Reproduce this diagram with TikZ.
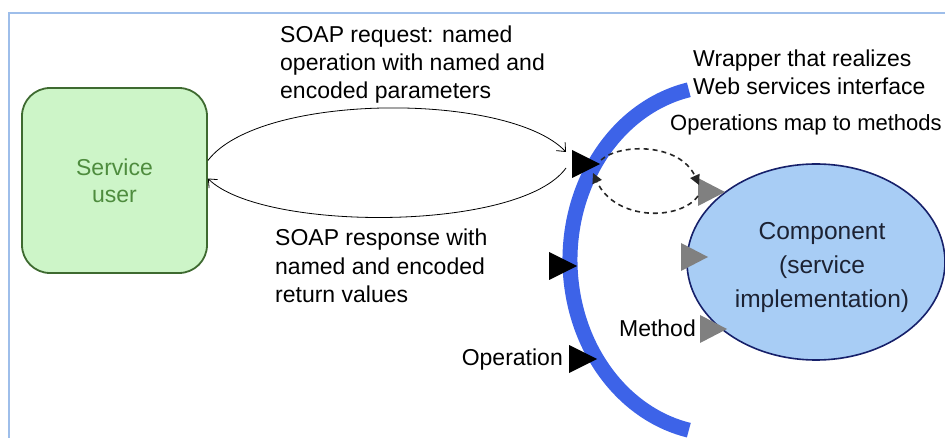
\documentclass[tikz,border=0pt]{standalone}
\usepackage{fontspec}
\setmainfont{Liberation Sans}
\usetikzlibrary{arrows.meta,shapes.geometric}

\definecolor{framec}{HTML}{9EBEEA}
\definecolor{userfill}{HTML}{CDF5C8}
\definecolor{userdraw}{HTML}{3E6A30}
\definecolor{usertext}{HTML}{4E8C3E}
\definecolor{wrapblue}{HTML}{3D63E8}
\definecolor{compfill}{HTML}{A8CDF5}
\definecolor{compdraw}{HTML}{16206A}
\definecolor{comptext}{HTML}{1C2233}
\definecolor{portgray}{HTML}{808080}

\begin{document}
\begin{tikzpicture}[x=1pt,y=-1pt,
  lbl/.style={font=\fontsize{23}{28}\selectfont, inner sep=0pt, align=left},
  userbox/.style={draw=userdraw, line width=1.8pt, fill=userfill, rounded corners=28pt,
    minimum width=185pt, minimum height=185pt, inner sep=0pt, align=center,
    text=usertext, font=\fontsize{23}{27}\selectfont},
  compbox/.style={ellipse, draw=compdraw, line width=1.6pt, fill=compfill,
    minimum width=258pt, minimum height=196pt, inner sep=0pt},
  comptxt/.style={align=center, inner sep=0pt, text=comptext,
    font=\fontsize{24.5}{34}\selectfont},
  soap/.style={line width=0.8pt, -{Straight Barb[length=7pt,width=12pt]}},
  maplink/.style={line width=1.6pt, dashed, dash pattern=on 5pt off 4pt, draw=black!85,
    -{Triangle[length=10pt,width=10pt]}},
  wrapper/.style={draw=wrapblue, line width=15pt},
  blackport/.pic={\fill[black] (-28,-14) -- (0,0) -- (-28,14) -- cycle;},
  grayport/.pic={\fill[portgray] (-27,-14) -- (0,0) -- (-27,14) -- cycle;}
]
\useasboundingbox (0,0) rectangle (945,438);

% outer frame (top and left edges)
\draw[framec, line width=2pt] (945,13) -- (9,13) -- (9,438);

% wrapper realising the web services interface
\draw[wrapper] (720,260) ++(258:150 and 174)
  arc[start angle=258, end angle=102, x radius=150, y radius=174];

% component and service user
\node[compbox] (comp) at (816,262) {};
\node[comptxt] (comptitle) at (822,267) {Component\\(service\\implementation)};
\node[userbox] (user) at (114.5,180.5) {Service\\user};

% operation ports on the wrapper
\coordinate (opA) at (600,164);
\coordinate (opB) at (577,266);
\coordinate (opC) at (597,359);
\pic at (opA) {blackport};
\pic at (opB) {blackport};
\pic at (opC) {blackport};

% method ports on the component
\coordinate (mA) at (725,192);
\coordinate (mB) at (708,257);
\coordinate (mC) at (727,329);
\pic at (mA) {grayport};
\pic at (mB) {grayport};
\pic at (mC) {grayport};

% SOAP request and response
\coordinate (reqend) at (566,152);
\coordinate (respstart) at (566,168);
\draw[soap] ([yshift=20pt]user.east) .. controls (260,92) and (509,92) .. (reqend);
\draw[soap] (respstart) .. controls (520,232) and (262,232) .. ([yshift=2pt]user.east);

% operations map to methods
\coordinate (mapout) at (601,160);
\coordinate (mapin) at (699,185);
\coordinate (mapback) at (698,196);
\coordinate (mapret) at (593,173);
\draw[maplink] (mapout) .. controls (620,143) and (680,143) .. (mapin);
\draw[maplink] (mapback) .. controls (680,221) and (615,221) .. (mapret);

% labels (multi-line labels are placed by the baseline of their last line)
\node[lbl, anchor=base west] (reqlbl) at (280,99)
  {SOAP request: named\\operation with named and\\encoded parameters};
\node[lbl, anchor=base west] (resplbl) at (275,302)
  {SOAP response with\\named and encoded\\return values};
\node[lbl, anchor=base west] (wraplbl) at (693,95)
  {Wrapper that realizes\\Web services interface};
\node[lbl, anchor=base west, font=\fontsize{22}{28}\selectfont] (maplbl) at (670,131)
  {Operations map to methods};
\node[lbl, anchor=base east] (oplbl) at (563,365) {Operation};
\node[lbl, anchor=base east] (methlbl) at (696,336) {Method};
\end{tikzpicture}
\end{document}
